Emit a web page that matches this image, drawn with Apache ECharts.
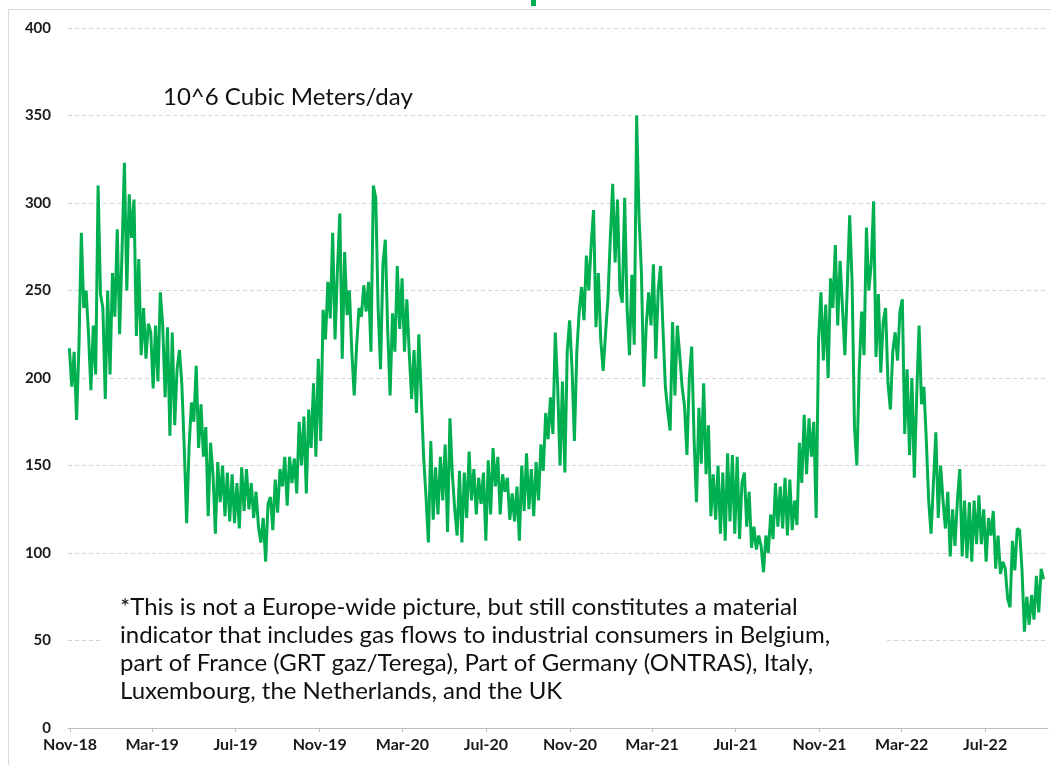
<!DOCTYPE html>
<html>
<head>
<meta charset="utf-8">
<title>Industrial gas flows</title>
<script src="https://cdn.jsdelivr.net/npm/echarts@6/dist/echarts.min.js"></script>
<style>
  html, body { margin: 0; padding: 0; background: #fff; }
  #chart { width: 1051px; height: 765px; }
</style>
</head>
<body>
<div id="chart"></div>
<script>
// first sample date, samples every half week (weekday high / weekend low)
var startDay = '2018-10-31';
var stepDays = 3.5;

// flows, 10^6 m3/day
var flowWinter18 = [217,195,215,176,218,283,240,250,225,193,230,202,310,248,240,188,250,202,260,235,285,225,272,323,250,305,280,302,224,268,213,240,211,231,226,194,230,198];
var flowSpring19 = [249,230,189,229,167,226,173,205,216,196,160,117,160,186,175,207,160,185,155,172,121,163,145,111,152,129,150,121,146,118,145,117,140,114,149,124,148,125];
var flowSummer19 = [140,120,135,115,106,120,95,128,132,113,142,123,148,138,155,127,155,140,154,134,175,150,178,134,182,160,197,155,211,164,239,222,255,234,283,222,262];
var flowWinter19 = [294,211,272,236,250,215,190,218,240,235,253,238,255,215,310,303,240,205,265,279,227,190,237,215,264,228,257,215,245,214,188,216,180,225,190,155,132];
var flowSpring20 = [106,164,119,149,122,155,130,162,112,177,145,125,110,147,106,146,120,158,130,148,122,143,128,146,107,153,122,160,138,155,122,145,135];
var flowSummer20 = [143,119,134,118,138,107,150,124,157,125,148,121,152,130,162,147,180,165,189,168,226,195,150,198,146,215,233,205,164,215,238,252,233,270,250,276,296,229,260,222,204,225];
var flowWinter20 = [245,280,311,266,302,250,243,303,240,213,259,219,350,292,260,195,230,249,230,265,211,250,264,228,195,181,170,232,190,230,213,195,184,156,200,218,165,129];
var flowSpring21 = [183,151,197,145,173,121,145,119,150,111,146,107,157,118,156,111,155,108,140,146,115,135,103,115,102,110,104,89,110,100,122,108,140,115,138,114,143];
var flowAutumn21 = [110,142,113,130,116,163,140,179,145,177,155,175,120,221,249,210,242,200,257,240,276,230,267,240,213,252,293,255,172,150,205,238,213,286,250,265,301];
var flowSpring22 = [212,248,203,232,240,197,182,215,226,210,238,245,168,205,156,200,143,190,230,185,195,165,130,111,140,169,120,150,130,114,135,98,125,104,130,148,98,130];
var flowSummer22 = [97,129,95,130,105,133,105,125,95,120,110,124,91,110,88,95,91,74,69,107,90,114,113,90,55,75,59,76,62,87,66,91,85];

var tickDates = ['2018-11-01','2019-03-01','2019-07-01','2019-11-01','2020-03-01','2020-07-01','2020-11-01','2021-03-01','2021-07-01','2021-11-01','2022-03-01','2022-07-01'];
var tickLabels = ['Nov-18','Mar-19','Jul-19','Nov-19','Mar-20','Jul-20','Nov-20','Mar-21','Jul-21','Nov-21','Mar-22','Jul-22'];

var unitText = '10^6 Cubic Meters/day';
var noteText = '*This is not a Europe-wide picture, but still constitutes a material\n' +
  'indicator that includes gas flows to industrial consumers in Belgium,\n' +
  'part of France (GRT gaz/Terega), Part of Germany (ONTRAS), Italy,\n' +
  'Luxembourg, the Netherlands, and the UK';

var DAY = 86400000;
var origin = Date.UTC(2018, 10, 1);

// days since 1 Nov 2018
function dayOf(s) {
  var p = s.split('-');
  return Math.round((Date.UTC(+p[0], +p[1] - 1, +p[2]) - origin) / DAY);
}

var flows = [].concat(flowWinter18, flowSpring19, flowSummer19, flowWinter19, flowSpring20,
  flowSummer20, flowWinter20, flowSpring21, flowAutumn21, flowSpring22, flowSummer22);
var d0 = dayOf(startDay);
var seriesData = flows.map(function (v, i) {
  return [d0 + i * stepDays, v];
});
var tickDays = tickDates.map(dayOf);

var chart = echarts.init(document.getElementById('chart'));
chart.setOption({
  animation: false,
  grid: { left: 68, right: 3, top: 28, bottom: 37 },
  xAxis: {
    type: 'value',
    min: dayOf('2018-10-29'),
    max: dayOf('2022-10-01'),
    splitLine: { show: false },
    axisLine: { onZero: false, lineStyle: { color: '#bfbfbf', width: 1 } },
    axisTick: { customValues: tickDays, length: 4, lineStyle: { color: '#bfbfbf' } },
    axisLabel: {
      customValues: tickDays,
      margin: 9,
      color: '#1a1a1a',
      fontFamily: 'Lato',
      fontWeight: 'bold',
      fontSize: 16,
      formatter: function (val) {
        var i = tickDays.indexOf(Math.round(val));
        return i >= 0 ? tickLabels[i] : '';
      }
    }
  },
  yAxis: {
    type: 'value',
    min: 0,
    max: 400,
    interval: 50,
    axisLine: { show: false },
    axisTick: { show: false },
    axisLabel: { margin: 17, color: '#1a1a1a', fontFamily: 'Lato', fontWeight: 'bold', fontSize: 15 },
    splitLine: { lineStyle: { color: '#d4d4d4', type: [4, 3], width: 1 } }
  },
  series: [{
    type: 'line',
    data: seriesData,
    showSymbol: false,
    lineStyle: { color: '#00b050', width: 3 },
    itemStyle: { color: '#00b050' },
    z: 3
  }],
  graphic: [
    { type: 'rect', shape: { x: 8.5, y: 9.5, width: 1100, height: 800 },
      style: { fill: 'none', stroke: '#d9d9d9', lineWidth: 1 }, z: -1, silent: true },
    { type: 'rect', shape: { x: 531, y: 0, width: 5, height: 6 }, style: { fill: '#00b050' } },
    { type: 'text', left: 163, top: 85,
      style: { text: unitText, font: '24px Lato', fill: '#111' }, z: 100 },
    { type: 'rect', shape: { x: 100, y: 585, width: 785, height: 122 },
      style: { fill: '#fff' }, z: 99 },
    { type: 'text', left: 120, top: 593,
      style: { text: noteText, font: '24px Lato', lineHeight: 28, fill: '#111' }, z: 100 }
  ]
});
</script>
</body>
</html>
